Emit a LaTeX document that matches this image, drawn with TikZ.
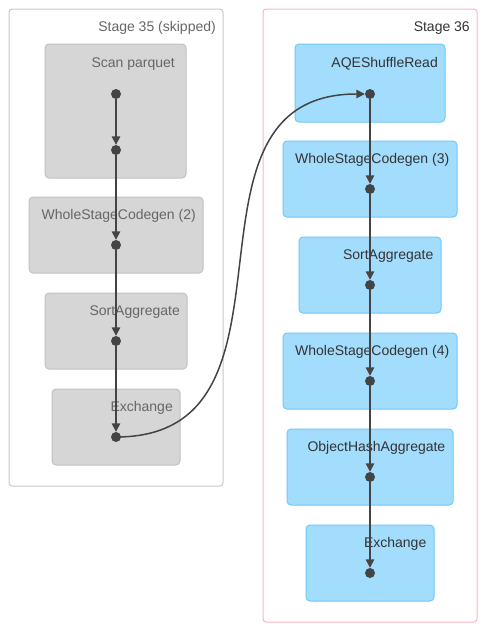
\documentclass[tikz,border=0pt]{standalone}
\usepackage{fontspec}
\setmainfont{Liberation Sans}
\usepackage{tikz}
\usetikzlibrary{arrows.meta,positioning}
\definecolor{skipfill}{HTML}{D6D6D6}
\definecolor{skipline}{HTML}{C2C2C2}
\definecolor{skiptext}{HTML}{666666}
\definecolor{clusterline}{HTML}{C8C8C8}
\definecolor{stagepink}{HTML}{FFB3C1}
\definecolor{opfill}{HTML}{A2DDFD}
\definecolor{opline}{HTML}{6CCBF8}
\definecolor{optext}{HTML}{333333}
\definecolor{edgegray}{HTML}{444444}

\begin{document}
\begin{tikzpicture}[
    x=1pt, y=-1pt,
    font=\fontsize{14}{16}\selectfont,
    cluster/.style={draw, line width=1pt, rounded corners=3pt, inner sep=0pt},
    skipbox/.style={draw=skipline, fill=skipfill, line width=1pt, rounded corners=4pt, inner sep=0pt, minimum height=76pt},
    opbox/.style={draw=opline, fill=opfill, line width=1pt, rounded corners=4pt, inner sep=0pt, minimum height=76pt},
    skiplbl/.style={anchor=base east, inner sep=0pt, text=skiptext},
    oplbl/.style={anchor=base east, inner sep=0pt, text=optext},
    dot/.style={circle, fill=edgegray, inner sep=0pt, minimum size=10pt},
    edge/.style={draw=edgegray, line width=1.5pt, -{Triangle[length=8.5pt,width=8.5pt]}}
]
    \useasboundingbox (0,0) rectangle (487,633);
    % Stage clusters
    \node[cluster, draw=clusterline, fill=white, minimum width=214pt, minimum height=477pt] (stage35) at (116,247.5) {};
    \node[cluster, draw=stagepink, fill=white, minimum width=214pt, minimum height=613pt] (stage36) at (370,315.5) {};
    \node[skiplbl] (stage35-t) at (216,31) {Stage 35 (skipped)};
    \node[oplbl] (stage36-t) at (470,31) {Stage 36};
    % Stage 35 (skipped)
    \node[skipbox, minimum width=141pt, minimum height=134pt] (scan) at (115.5,111) {};
    \node[skipbox, minimum width=174pt] (wscg2) at (116,235) {};
    \node[skipbox, minimum width=142pt] (sort2) at (116,331) {};
    \node[skipbox, minimum width=128pt] (exch2) at (116,427) {};
    \node[skiplbl] (scan-t) at (175,67) {Scan parquet};
    \node[skiplbl] (wscg2-t) at (196,219) {WholeStageCodegen (2)};
    \node[skiplbl] (sort2-t) at (180,315) {SortAggregate};
    \node[skiplbl] (exch2-t) at (173,411) {Exchange};
    % Stage 36
    \node[opbox, minimum width=150pt, minimum height=78pt] (aqe) at (370,83) {};
    \node[opbox, minimum width=174pt] (wscg3) at (370,179) {};
    \node[opbox, minimum width=142pt] (sort3) at (370,275) {};
    \node[opbox, minimum width=174pt] (wscg4) at (370,371) {};
    \node[opbox, minimum width=166pt] (hash) at (370,467) {};
    \node[opbox, minimum width=128pt] (exch3) at (370,563) {};
    \node[oplbl] (aqe-t) at (438,67) {AQEShuffleRead};
    \node[oplbl] (wscg3-t) at (449.5,163) {WholeStageCodegen (3)};
    \node[oplbl] (sort3-t) at (433.5,259) {SortAggregate};
    \node[oplbl] (wscg4-t) at (449.5,355) {WholeStageCodegen (4)};
    \node[oplbl] (hash-t) at (445.5,451) {ObjectHashAggregate};
    \node[oplbl] (exch3-t) at (426.5,547) {Exchange};
    % Dots
    \foreach \n/\y in {a1/94, a2/150, a3/245, a4/341, a5/437}
        \node[dot] (\n) at (116,\y) {};
    \foreach \n/\y in {b1/94, b2/189, b3/285, b4/381, b5/477, b6/573}
        \node[dot] (\n) at (370,\y) {};
    % Edges
    \foreach \s/\t in {a1/a2, a2/a3, a3/a4, a4/a5, b1/b2, b2/b3, b3/b4, b4/b5, b5/b6} {
        \draw[edge] (\s) -- (\t);
    }
    \draw[edge] (a5.center) .. controls +(204,0) and +(-209,0) .. (b1);
\end{tikzpicture}
\end{document}
